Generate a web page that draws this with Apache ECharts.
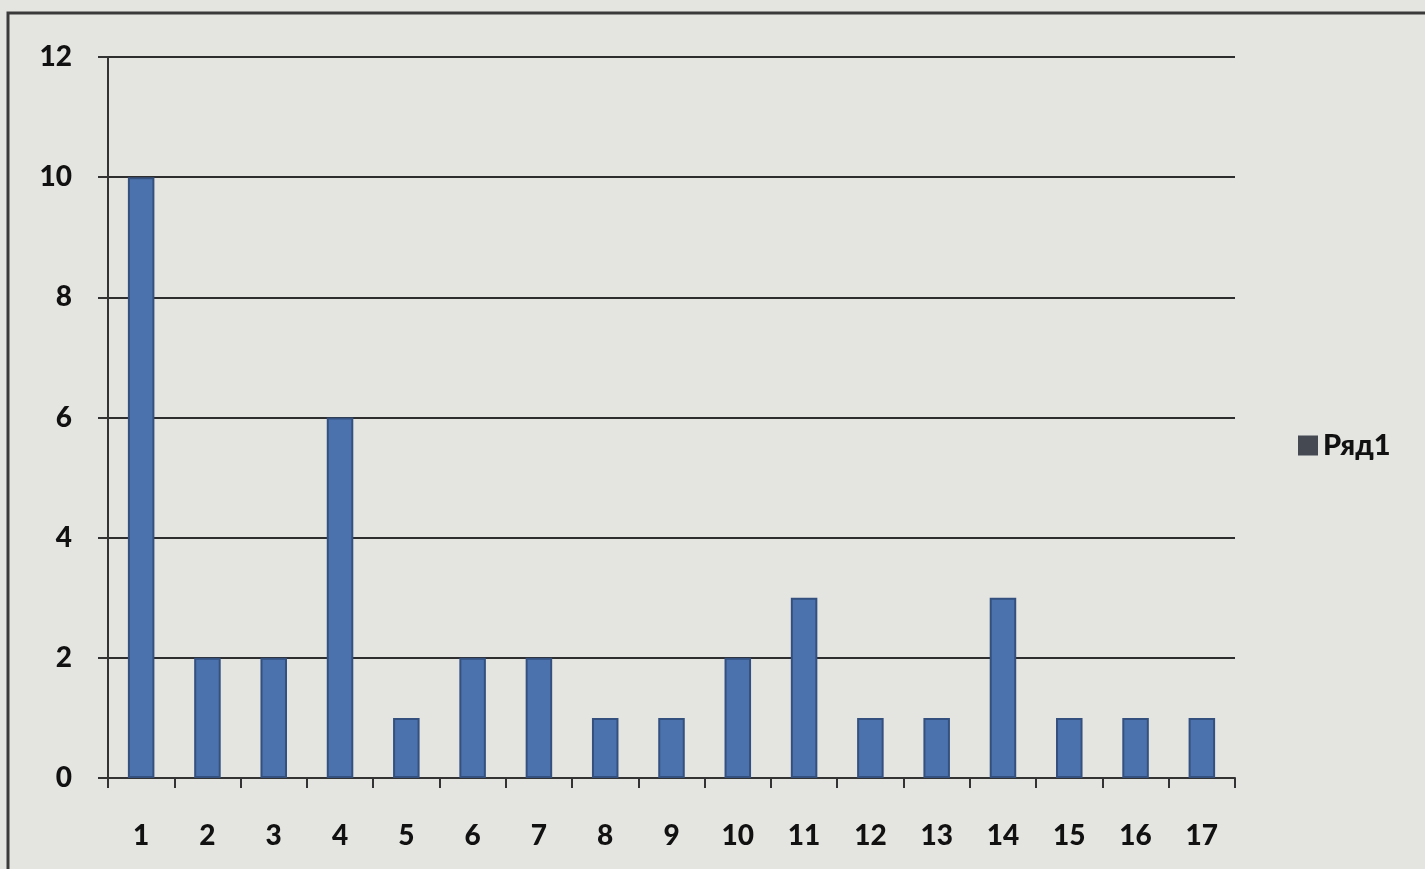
<!DOCTYPE html>
<html>
<head>
<meta charset="utf-8">
<script src="https://cdn.jsdelivr.net/npm/echarts@6/dist/echarts.min.js"></script>
<style>
  html, body { margin: 0; padding: 0; background: #e4e4e0; }
  #chart { width: 1425px; height: 869px; }
</style>
</head>
<body>
<div id="chart"></div>
<script>
// Categories along the x axis
const categories = ['1','2','3','4','5','6','7','8','9','10','11','12','13','14','15','16','17'];
// Values of the single series
const seriesName = 'Ряд1';
const values = [10, 2, 2, 6, 1, 2, 2, 1, 1, 2, 3, 1, 1, 3, 1, 1, 1];
// Value axis range
const yMin = 0, yMax = 12, yStep = 2;

const chart = echarts.init(document.getElementById('chart'));
const labelFont = { color: '#111', fontFamily: 'Lato, "Open Sans", sans-serif', fontWeight: 900, fontSize: 28 };

chart.setOption({
  backgroundColor: '#e4e4e0',
  animation: false,
  graphic: [{
    type: 'rect',
    shape: { x: 8, y: 13, width: 1500, height: 900 },
    style: { fill: 'none', stroke: '#3a3a3a', lineWidth: 3 },
    z: -1
  }],
  grid: { left: 108, top: 57, right: 190, bottom: 91 },
  legend: {
    data: [seriesName],
    orient: 'vertical',
    left: 1293,
    top: 426,
    icon: 'rect',
    itemWidth: 20,
    itemHeight: 20,
    itemGap: 8,
    itemStyle: { color: '#454a52', borderWidth: 0 },
    textStyle: Object.assign({}, labelFont, { fontSize: 29 })
  },
  xAxis: {
    type: 'category',
    data: categories,
    axisLine: { lineStyle: { color: '#333', width: 2 } },
    axisTick: { show: true, length: 10, lineStyle: { color: '#333', width: 2 } },
    axisLabel: Object.assign({ margin: 44 }, labelFont)
  },
  yAxis: {
    type: 'value',
    min: yMin, max: yMax, interval: yStep,
    axisLine: { show: true, lineStyle: { color: '#333', width: 2 } },
    axisTick: { show: true, length: 10, lineStyle: { color: '#333', width: 2 } },
    axisLabel: Object.assign({ margin: 36 }, labelFont),
    splitLine: { lineStyle: { color: '#2e2e2e', width: 2 } }
  },
  series: [{
    name: seriesName,
    type: 'bar',
    data: values,
    barWidth: '40%',
    itemStyle: { color: '#4b72ac', borderColor: '#34507f', borderWidth: 2 }
  }]
});
</script>
</body>
</html>
